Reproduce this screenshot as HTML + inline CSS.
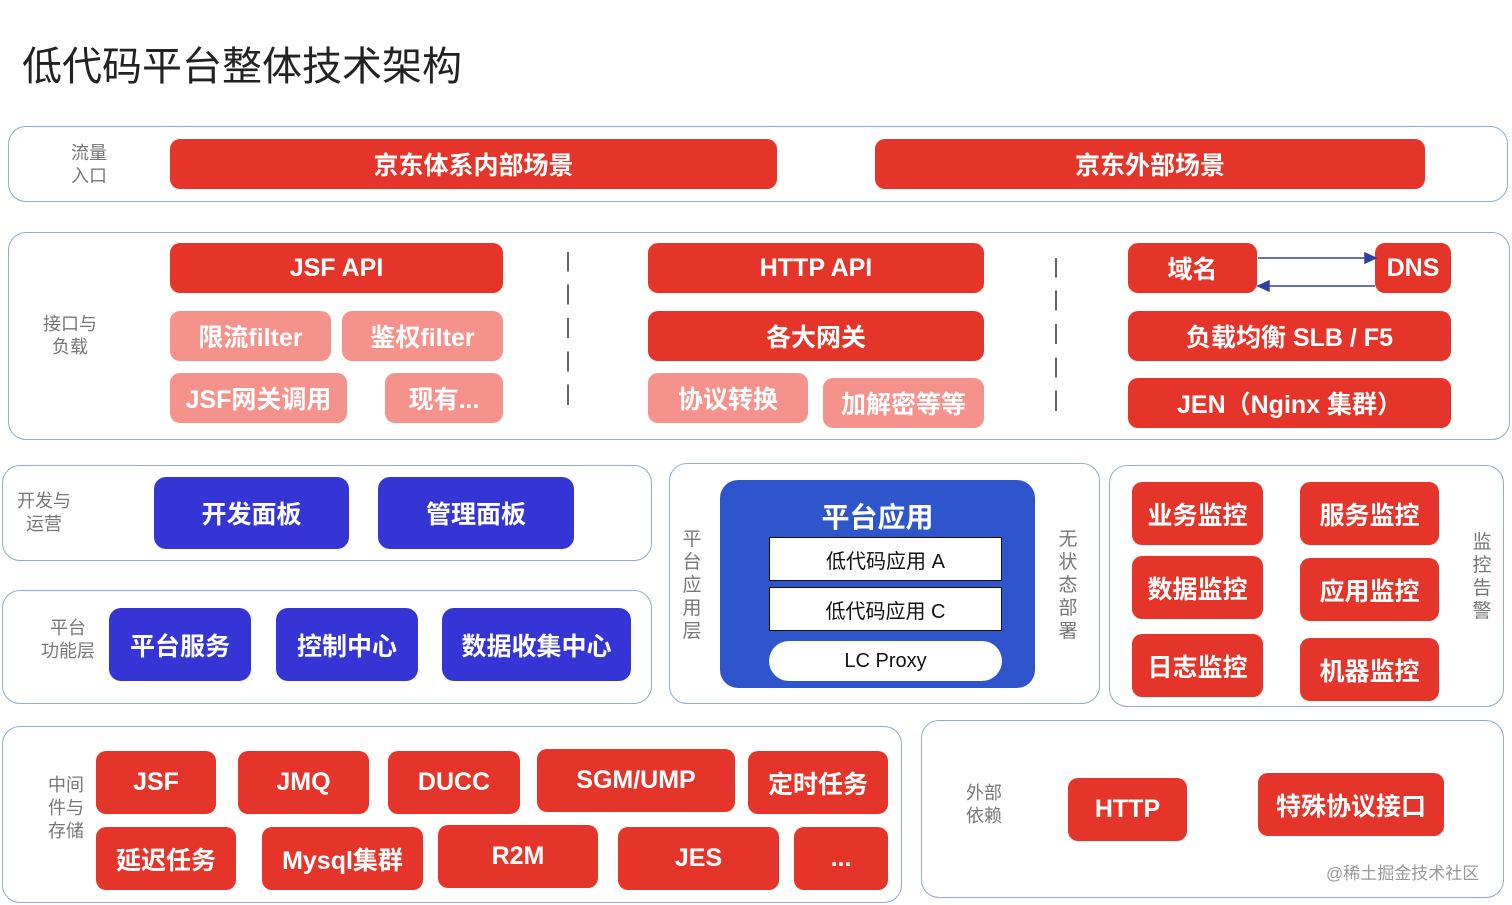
<!DOCTYPE html>
<html><head><meta charset="utf-8"><style>
body{margin:0;width:1512px;height:905px;background:#fff;position:relative;overflow:hidden;font-family:"Liberation Sans","Noto Sans CJK SC",sans-serif}
.p{position:absolute;border:1.5px solid #8fa9d8;border-radius:18px;box-sizing:border-box}
.b{position:absolute;display:flex;align-items:center;justify-content:center;color:#fff;border-radius:10px;font-size:25px;box-sizing:border-box;white-space:nowrap;font-weight:bold}
.r{background:#e5352a}
.k{background:#f5928b}
.u{background:#3535d6}
.l{position:absolute;color:#777;font-size:18px;line-height:23px;text-align:center}
.w{background:#fff;color:#111;border:1.5px solid #111;border-radius:0;font-size:20px;font-weight:normal}
.d{position:absolute;width:0;border-left:2px dashed #666}
</style></head><body>
<div style="position:absolute;left:22px;top:34px;font-size:40px;color:#222">低代码平台整体技术架构</div>

<div class="p" style="left:8px;top:126px;width:1500px;height:76px"></div>
<div class="l" style="left:60px;top:142px;width:58px">流量<br>入口</div>
<div class="b r" style="left:170px;top:139px;width:607px;height:50px">京东体系内部场景</div>
<div class="b r" style="left:875px;top:139px;width:550px;height:50px">京东外部场景</div>

<div class="p" style="left:8px;top:232px;width:1502px;height:208px"></div>
<div class="l" style="left:36px;top:313px;width:68px">接口与<br>负载</div>
<div class="b r" style="left:170px;top:243px;width:333px;height:50px">JSF API</div>
<div class="b k" style="left:170px;top:311px;width:161px;height:50px">限流filter</div>
<div class="b k" style="left:342px;top:311px;width:161px;height:50px">鉴权filter</div>
<div class="b k" style="left:170px;top:373px;width:177px;height:50px">JSF网关调用</div>
<div class="b k" style="left:385px;top:373px;width:118px;height:50px">现有...</div>
<div class="d" style="left:567px;top:252px;height:153px;border-image:repeating-linear-gradient(#666 0 20px,transparent 20px 33px) 1"></div>
<div class="b r" style="left:648px;top:243px;width:336px;height:50px">HTTP API</div>
<div class="b r" style="left:648px;top:311px;width:336px;height:50px">各大网关</div>
<div class="b k" style="left:648px;top:373px;width:160px;height:50px">协议转换</div>
<div class="b k" style="left:823px;top:378px;width:161px;height:50px">加解密等等</div>
<div class="d" style="left:1055px;top:258px;height:154px;border-image:repeating-linear-gradient(#666 0 20px,transparent 20px 33px) 1"></div>
<div class="b r" style="left:1128px;top:243px;width:129px;height:50px">域名</div>
<div class="b r" style="left:1375px;top:243px;width:76px;height:50px">DNS</div>
<svg style="position:absolute;left:0;top:0" width="1512" height="905"><g stroke="#3040a0" stroke-width="1.5" fill="#3040a0"><line x1="1258" y1="258" x2="1368" y2="258"/><polygon points="1376,258 1365,253 1365,263"/><line x1="1375" y1="286" x2="1266" y2="286"/><polygon points="1258,286 1269,281 1269,291"/></g></svg>
<div class="b r" style="left:1128px;top:311px;width:323px;height:50px">负载均衡 SLB / F5</div>
<div class="b r" style="left:1128px;top:378px;width:323px;height:50px">JEN（Nginx 集群）</div>

<div class="p" style="left:2px;top:465px;width:650px;height:96px"></div>
<div class="l" style="left:10px;top:490px;width:68px">开发与<br>运营</div>
<div class="b u" style="left:154px;top:477px;width:195px;height:72px;border-radius:12px">开发面板</div>
<div class="b u" style="left:378px;top:477px;width:196px;height:72px;border-radius:12px">管理面板</div>

<div class="p" style="left:2px;top:590px;width:650px;height:114px"></div>
<div class="l" style="left:34px;top:617px;width:68px">平台<br>功能层</div>
<div class="b u" style="left:109px;top:608px;width:142px;height:73px;border-radius:12px">平台服务</div>
<div class="b u" style="left:276px;top:608px;width:142px;height:73px;border-radius:12px">控制中心</div>
<div class="b u" style="left:442px;top:608px;width:189px;height:73px;border-radius:12px">数据收集中心</div>

<div class="p" style="left:669px;top:463px;width:431px;height:241px"></div>
<div class="l" style="left:680px;top:528px;width:24px;font-size:19px">平<br>台<br>应<br>用<br>层</div>
<div class="l" style="left:1056px;top:528px;width:24px;font-size:19px">无<br>状<br>态<br>部<br>署</div>
<div class="b" style="left:720px;top:480px;width:315px;height:208px;background:#2f55cc;border-radius:18px;align-items:flex-start;padding-top:16px;font-size:28px">平台应用</div>
<div class="b w" style="left:769px;top:537px;width:233px;height:44px">低代码应用 A</div>
<div class="b w" style="left:769px;top:587px;width:233px;height:44px">低代码应用 C</div>
<div class="b" style="left:769px;top:641px;width:233px;height:40px;background:#fff;color:#111;border-radius:20px;font-size:20px;font-weight:normal">LC Proxy</div>

<div class="p" style="left:1109px;top:465px;width:395px;height:242px"></div>
<div class="b r" style="left:1132px;top:482px;width:131px;height:63px">业务监控</div>
<div class="b r" style="left:1300px;top:482px;width:139px;height:63px">服务监控</div>
<div class="b r" style="left:1132px;top:556px;width:131px;height:63px">数据监控</div>
<div class="b r" style="left:1300px;top:558px;width:139px;height:63px">应用监控</div>
<div class="b r" style="left:1132px;top:634px;width:131px;height:63px">日志监控</div>
<div class="b r" style="left:1300px;top:638px;width:139px;height:63px">机器监控</div>
<div class="l" style="left:1470px;top:531px;width:24px;font-size:19px">监<br>控<br>告<br>警</div>

<div class="p" style="left:2px;top:726px;width:900px;height:177px"></div>
<div class="l" style="left:36px;top:774px;width:60px">中间<br>件与<br>存储</div>
<div class="b r" style="left:96px;top:751px;width:120px;height:63px">JSF</div>
<div class="b r" style="left:238px;top:751px;width:131px;height:63px">JMQ</div>
<div class="b r" style="left:388px;top:751px;width:132px;height:63px">DUCC</div>
<div class="b r" style="left:537px;top:749px;width:198px;height:63px">SGM/UMP</div>
<div class="b r" style="left:748px;top:751px;width:140px;height:63px">定时任务</div>
<div class="b r" style="left:96px;top:827px;width:140px;height:63px">延迟任务</div>
<div class="b r" style="left:262px;top:827px;width:161px;height:63px">Mysql集群</div>
<div class="b r" style="left:438px;top:825px;width:160px;height:63px">R2M</div>
<div class="b r" style="left:618px;top:827px;width:161px;height:63px">JES</div>
<div class="b r" style="left:794px;top:827px;width:94px;height:63px">...</div>

<div class="p" style="left:921px;top:720px;width:583px;height:178px"></div>
<div class="l" style="left:954px;top:782px;width:60px">外部<br>依赖</div>
<div class="b r" style="left:1068px;top:778px;width:119px;height:63px">HTTP</div>
<div class="b r" style="left:1258px;top:773px;width:186px;height:63px">特殊协议接口</div>
<div style="position:absolute;left:1326px;top:859px;font-size:17px;color:#999">@稀土掘金技术社区</div>
</body></html>
